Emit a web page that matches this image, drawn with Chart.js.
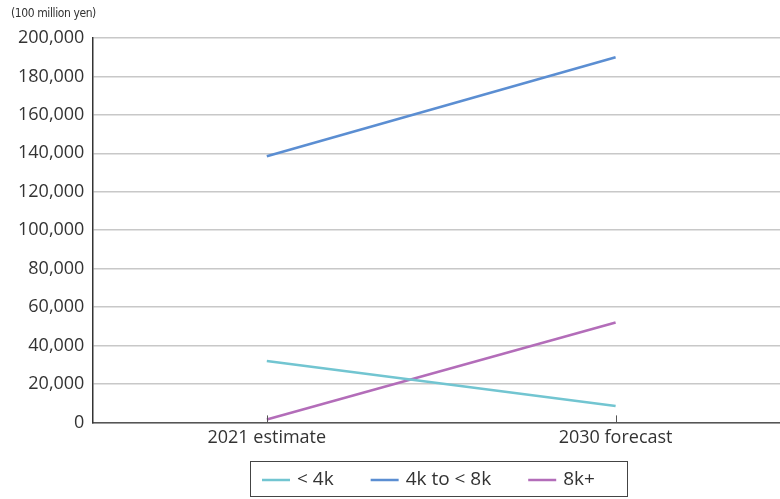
<!DOCTYPE html>
<html>
<head>
<meta charset="utf-8">
<script src="https://cdn.jsdelivr.net/npm/chart.js@4.4.0/dist/chart.umd.min.js"></script>
<style>
  html, body { margin: 0; padding: 0; background: #fff; overflow: hidden; }
  #wrap { position: relative; width: 800px; height: 499px; }
  #unit {
    position: absolute; left: 11px; top: 6px;
    font-family: "Liberation Sans Narrow", "DejaVu Sans Condensed", sans-serif;
    font-size: 12px; color: #333; letter-spacing: -0.4px;
  }
</style>
</head>
<body>
<div id="wrap">
  <canvas id="chart" width="800" height="499"></canvas>
  <div id="unit">(100 million yen)</div>
</div>
<script>
const categories = ["2021 estimate", "2030 forecast"];
const seriesNames = ["< 4k", "4k to < 8k", "8k+"];
const under4k = [32000, 8500];
const from4kTo8k = [138500, 190000];
const over8k = [1500, 52000];
const yTicks = [0, 20000, 40000, 60000, 80000, 100000, 120000, 140000, 160000, 180000, 200000];

const colors = ["#72C5D1", "#5B8ED2", "#B36DB9"];
const textColor = "#333";
const fontFamily = "'Open Sans', 'Noto Sans', sans-serif";

// --- PLUGINS ---
// boxed legend under the chart, drawn from the datasets
const boxLegend = {
  id: "boxLegend",
  afterDraw(chart) {
    const ctx = chart.ctx;
    ctx.save();
    ctx.strokeStyle = "#444";
    ctx.lineWidth = 1;
    ctx.strokeRect(250.5, 461.5, 377, 35);
    ctx.font = `19px ${fontFamily}`;
    ctx.fillStyle = textColor;
    ctx.textBaseline = "middle";
    let x = 262;
    const y = 480;
    chart.data.datasets.forEach(ds => {
      ctx.strokeStyle = ds.borderColor;
      ctx.lineWidth = 2.5;
      ctx.beginPath();
      ctx.moveTo(x, y);
      ctx.lineTo(x + 28, y);
      ctx.stroke();
      ctx.fillText(ds.label, x + 35, y);
      x += 35 + ctx.measureText(ds.label).width + 37;
    });
    ctx.restore();
  }
};

// small category ticks pointing up from the x axis
const upTicks = {
  id: "upTicks",
  afterDatasetsDraw(chart) {
    const x = chart.scales.x, y = chart.scales.y;
    const ctx = chart.ctx;
    ctx.save();
    ctx.strokeStyle = "#555";
    ctx.lineWidth = 1;
    categories.forEach((c, i) => {
      const px = Math.round(x.getPixelForTick(i)) + 0.5;
      ctx.beginPath();
      ctx.moveTo(px, y.bottom);
      ctx.lineTo(px, y.bottom - 7);
      ctx.stroke();
    });
    ctx.restore();
  }
};

const datasets = [under4k, from4kTo8k, over8k].map((d, i) => ({
  label: seriesNames[i],
  data: d,
  borderColor: colors[i],
  backgroundColor: colors[i],
  borderWidth: 2.5,
  pointRadius: 0,
  pointHoverRadius: 0,
  tension: 0
}));

new Chart(document.getElementById("chart"), {
  type: "line",
  data: { labels: categories, datasets: datasets },
  options: {
    responsive: false,
    animation: false,
    layout: { padding: { top: 38, left: 10, right: 10, bottom: 45 } },
    plugins: {
      tooltip: { enabled: false },
      legend: { display: false }
    },
    scales: {
      x: {
        offset: true,
        grid: { display: false, drawTicks: false },
        border: { display: true, color: "#555", width: 1.5 },
        ticks: { color: textColor, font: { family: fontFamily, size: 18 }, padding: 5 }
      },
      y: {
        min: 0,
        max: 200000,
        afterBuildTicks(axis) { axis.ticks = yTicks.map(v => ({ value: v })); },
        grid: { color: "#c8c8c8", lineWidth: 1.5, drawTicks: false },
        border: { display: true, color: "#333", width: 1.5 },
        ticks: {
          color: textColor,
          padding: 8,
          font: { family: fontFamily, size: 18 },
          callback: v => v.toLocaleString("en-US")
        }
      }
    }
  },
  plugins: [boxLegend, upTicks]
});
</script>
</body>
</html>
